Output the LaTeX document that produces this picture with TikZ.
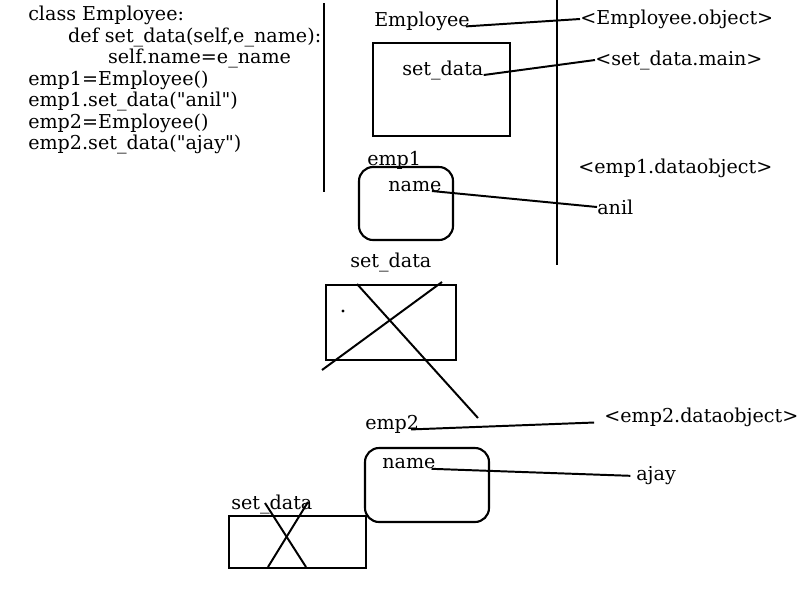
\documentclass[tikz,border=0pt]{standalone}
\usepackage{fontspec}
\setmainfont{DejaVu Serif}
\usetikzlibrary{positioning}

\tikzset{
  lbl/.style={inner sep=0pt, anchor=west, font=\fontsize{13.6}{15.3}\selectfont},
  frame/.style={draw, line width=1.5pt},
  rframe/.style={draw, line width=1.5pt, rounded corners=10pt},
  wire/.style={line width=1.4pt},
}

\begin{document}
\begin{tikzpicture}[x=0.025cm, y=-0.025cm]
	\useasboundingbox (0,0) rectangle (800,600);

	% code listing
	\node[lbl, anchor=north west, align=left] (code) at (28,6) {class Employee:\\
		\hspace*{28.4pt}def set\_data(self,e\_name):\\
		\hspace*{56.7pt}self.name=e\_name\\
		emp1=Employee()\\
		emp1.set\_data(\textquotedbl anil\textquotedbl)\\
		emp2=Employee()\\
		emp2.set\_data(\textquotedbl ajay\textquotedbl)};

	% separators
	\draw[line width=1.7pt] (324,3) -- (324,192);
	\draw[line width=1.7pt] (557,0) -- (557,265);

	% class object
	\node[lbl] at (374,21) (cls) {Employee};
	\draw[frame] (373,43) rectangle (510,136);
	\node[lbl] at (402,70) (setd) {set\_data};
	\node[lbl] at (580,19) (clsobj) {\textless Employee.object\textgreater};
	\node[lbl] at (595,60) (setmain) {\textless set\_data.main\textgreater};
	\draw[wire, shorten <=-3pt] (cls.base east) -- (clsobj.west);
	\draw[wire] (setd.base east) -- (setmain.west);

	% emp1
	\node[lbl] at (367,160) (emp1) {emp1};
	\draw[rframe] (359,167) rectangle (453,240);
	\node[lbl] at (388,187) (name1) {name};
	\node[lbl] at (578,168) (dobj1) {\textless emp1.dataobject\textgreater};
	\node[lbl] at (597,207) (anil) {anil};
	\draw[wire, shorten <=-7pt] (name1.base east) -- (anil.west);

	\node[lbl] at (350,262) (sd1) {set\_data};
	\draw[frame] (326,285) rectangle (456,360);
	\draw[wire] (322,370) -- (442,282);
	\draw[wire] (357,284) -- (478,418);
	\fill (343,311) circle (1.2pt);

	% emp2
	\node[lbl] at (365,424) (emp2) {emp2};
	\node[lbl] at (604,417) (dobj2) {\textless emp2.dataobject\textgreater};
	\draw[wire, shorten <=-6pt, shorten >=7pt] (emp2.base east) -- (dobj2.base west);
	\draw[rframe] (365,448) rectangle (489,522);
	\node[lbl] at (382,464) (name2) {name};
	\node[lbl] at (636,476) (ajay) {ajay};
	\draw[wire, shorten <=-3pt, shorten >=4pt] (name2.base east) -- (ajay.west);

	\node[lbl] at (231,504) (sd2) {set\_data};
	\draw[frame] (229,516) rectangle (366,568);
	\draw[wire] (265,503) -- (306,567);
	\draw[wire] (268,567) -- (308,502);
\end{tikzpicture}
\end{document}
